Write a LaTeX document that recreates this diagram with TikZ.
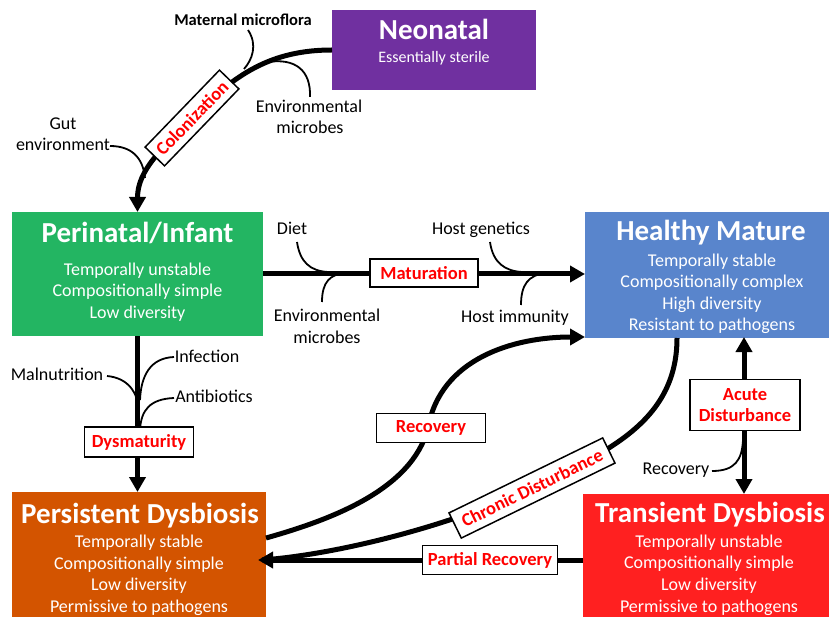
\documentclass[tikz,border=0pt]{standalone}
\usepackage{fontspec}
\setmainfont{Carlito}
\usetikzlibrary{arrows.meta,calc}
\definecolor{neoC}{RGB}{112,48,160}
\definecolor{periC}{RGB}{35,181,98}
\definecolor{healC}{RGB}{89,133,204}
\definecolor{persC}{RGB}{211,84,0}
\definecolor{tranC}{RGB}{255,32,32}
\begin{document}
\begin{tikzpicture}[x=1pt,y=1pt,
  stage/.style={draw=none,inner sep=0,outer sep=0},
  ttl/.style={text=white,font=\fontsize{29}{31}\selectfont\bfseries,anchor=base,inner sep=0},
  btxt/.style={text=white,font=\fontsize{18}{21}\selectfont,anchor=base,inner sep=0},
  side/.style={text=black,font=\fontsize{18}{21}\selectfont,anchor=base,inner sep=0},
  lbl/.style={draw=black,line width=1.5pt,fill=white,text=red,font=\fontsize{18.5}{21}\selectfont\bfseries,inner sep=0,align=center},
  mainln/.style={line width=5pt},
  feed/.style={line width=1.8pt},
  tip/.style={-{Triangle[length=15pt,width=16pt]}},
  tips/.style={{Triangle[length=15pt,width=16pt]}-{Triangle[length=15pt,width=16pt]}},
]
\useasboundingbox (0,0) rectangle (829,-617);
% stage boxes
\node[stage,fill=neoC,minimum width=204,minimum height=80] (neo) at (434,-50) {};
\node[stage,fill=periC,minimum width=251,minimum height=124] (peri) at (137.5,-274) {};
\node[stage,fill=healC,minimum width=244,minimum height=126] (heal) at (707,-275) {};
\node[stage,fill=persC,minimum width=254,minimum height=125] (pers) at (139,-554.5) {};
\node[stage,fill=tranC,minimum width=246,minimum height=123] (tran) at (706,-555.5) {};
% stage texts
\node[ttl] (neoT) at (434,-40) {Neonatal};
\node[btxt,font=\fontsize{16}{19}\selectfont] (neoL) at (434,-63) {Essentially sterile};
\node[ttl] (periT) at (137.5,-243) {Perinatal/Infant};
\node[btxt] (periA) at (137.5,-276) {Temporally unstable};
\node[btxt] (periB) at (137.5,-297) {Compositionally simple};
\node[btxt] (periC) at (137.5,-318) {Low diversity};
\node[ttl] (healT) at (711,-241) {Healthy Mature};
\node[btxt] (healA) at (712,-267) {Temporally stable};
\node[btxt] (healB) at (712,-288) {Compositionally complex};
\node[btxt] (healC) at (712,-309) {High diversity};
\node[btxt] (healD) at (712,-330) {Resistant to pathogens};
\node[ttl] (persT) at (140,-523) {Persistent Dysbiosis};
\node[btxt] (persA) at (139,-547) {Temporally stable};
\node[btxt] (persB) at (139,-569) {Compositionally simple};
\node[btxt] (persC) at (139,-590) {Low diversity};
\node[btxt] (persD) at (139,-612) {Permissive to pathogens};
\node[ttl] (tranT) at (710,-522) {Transient Dysbiosis};
\node[btxt] (tranA) at (709,-547) {Temporally unstable};
\node[btxt] (tranB) at (709,-568) {Compositionally simple};
\node[btxt] (tranC) at (709,-590) {Low diversity};
\node[btxt] (tranD) at (709,-612) {Permissive to pathogens};
% side labels
\node[side,font=\fontsize{16.5}{19}\selectfont\bfseries] (matF) at (243,-26) {Maternal microflora};
\node[side] (envA1) at (309,-113) {Environmental};
\node[side] (envA2) at (310,-134) {microbes};
\node[side] (gut1) at (63,-130) {Gut};
\node[side] (gut2) at (63,-151) {environment};
\node[side] (diet) at (292,-235) {Diet};
\node[side] (envB1) at (327,-321) {Environmental};
\node[side] (envB2) at (327,-343) {microbes};
\node[side] (hgen) at (481,-235) {Host genetics};
\node[side] (himm) at (515,-322) {Host immunity};
\node[side] (infe) at (207,-362) {Infection};
\node[side] (maln) at (57,-380) {Malnutrition};
\node[side] (anti) at (214,-402) {Antibiotics};
\node[side] (recS) at (676,-474) {Recovery};
% coordinates
\coordinate (cc) at (192,-118);
\coordinate (rc) at (428,-428);
\coordinate (chS) at ([xshift=92]heal.south west);
\coordinate (chc) at (532,-488);
\coordinate (pdin) at ([yshift=-5.5]pers.east);
\coordinate (pdtip) at ([xshift=-8]pdin);
\coordinate (recS0) at ([yshift=16.5]pers.east);
\coordinate (recE) at ([yshift=1]heal.south west);
% feeder curves
\draw[feed] (248,-30) .. controls (258,-45) and (252,-60) .. (244,-69);
\draw[feed] (310,-97) .. controls (311,-70) and (295,-58) .. (268,-62);
\draw[feed] (110,-146) .. controls (132,-146) and (143,-158) .. (145,-178);
\draw[feed] (297,-242) .. controls (300,-262) and (310,-271) .. (328,-272);
\draw[feed] (322,-302) .. controls (322,-282) and (330,-274) .. (346,-273);
\draw[feed] (490,-242) .. controls (493,-263) and (505,-271) .. (522,-272);
\draw[feed] (521,-305) .. controls (521,-285) and (528,-275) .. (546,-273);
\draw[feed] (174,-357) .. controls (150,-358) and (141,-376) .. (140,-400);
\draw[feed] (107,-376) .. controls (128,-378) and (138,-392) .. (139,-412);
\draw[feed] (174,-398) .. controls (150,-399) and (141,-410) .. (140,-430);
\draw[feed] (712,-471) .. controls (735,-471) and (742,-460) .. (743,-440);
% main connectors
\draw[mainln,tip] (neo.west) to[out=180,in=46] (cc) to[out=226,in=90] (peri.north);
\draw[mainln,tip] (peri.east) -- (peri.east -| heal.west);
\draw[mainln,tip] (peri.south) -- (peri.south |- pers.north);
\draw[mainln,tip] (recS0) .. controls (330,-520) and (412,-490) .. (rc) to[out=80,in=180] (recE);
\draw[mainln] (chS) .. controls (677,-423) and (604,-453) .. (chc) .. controls (440,-530) and (330,-555) .. (262,-560);
\draw[mainln,tip] (tran.west |- pdin) -- (pdtip);
\draw[mainln,tips] (744,-494) -- (744,-337);
% label boxes
\node[lbl,rotate=46,minimum width=107,minimum height=27] (colon) at (cc) {Colonization};
\node[lbl,minimum width=108,minimum height=28] (matu) at (424,-273) {Maturation};
\node[lbl,minimum width=109,minimum height=30] (dysm) at (139,-442) {Dysmaturity};
\node[lbl,minimum width=109,minimum height=29] (reco) at (431,-428) {Recovery};
\node[lbl,rotate=26,minimum width=171,minimum height=28] (chro) at (chc) {Chronic Disturbance};
\node[lbl,minimum width=135,minimum height=29] (part) at (490,-560) {Partial Recovery};
\node[lbl,minimum width=110,minimum height=51,font=\fontsize{18.5}{21}\selectfont\bfseries] (acut) at (745,-405) {Acute\\Disturbance};
\end{tikzpicture}
\end{document}
